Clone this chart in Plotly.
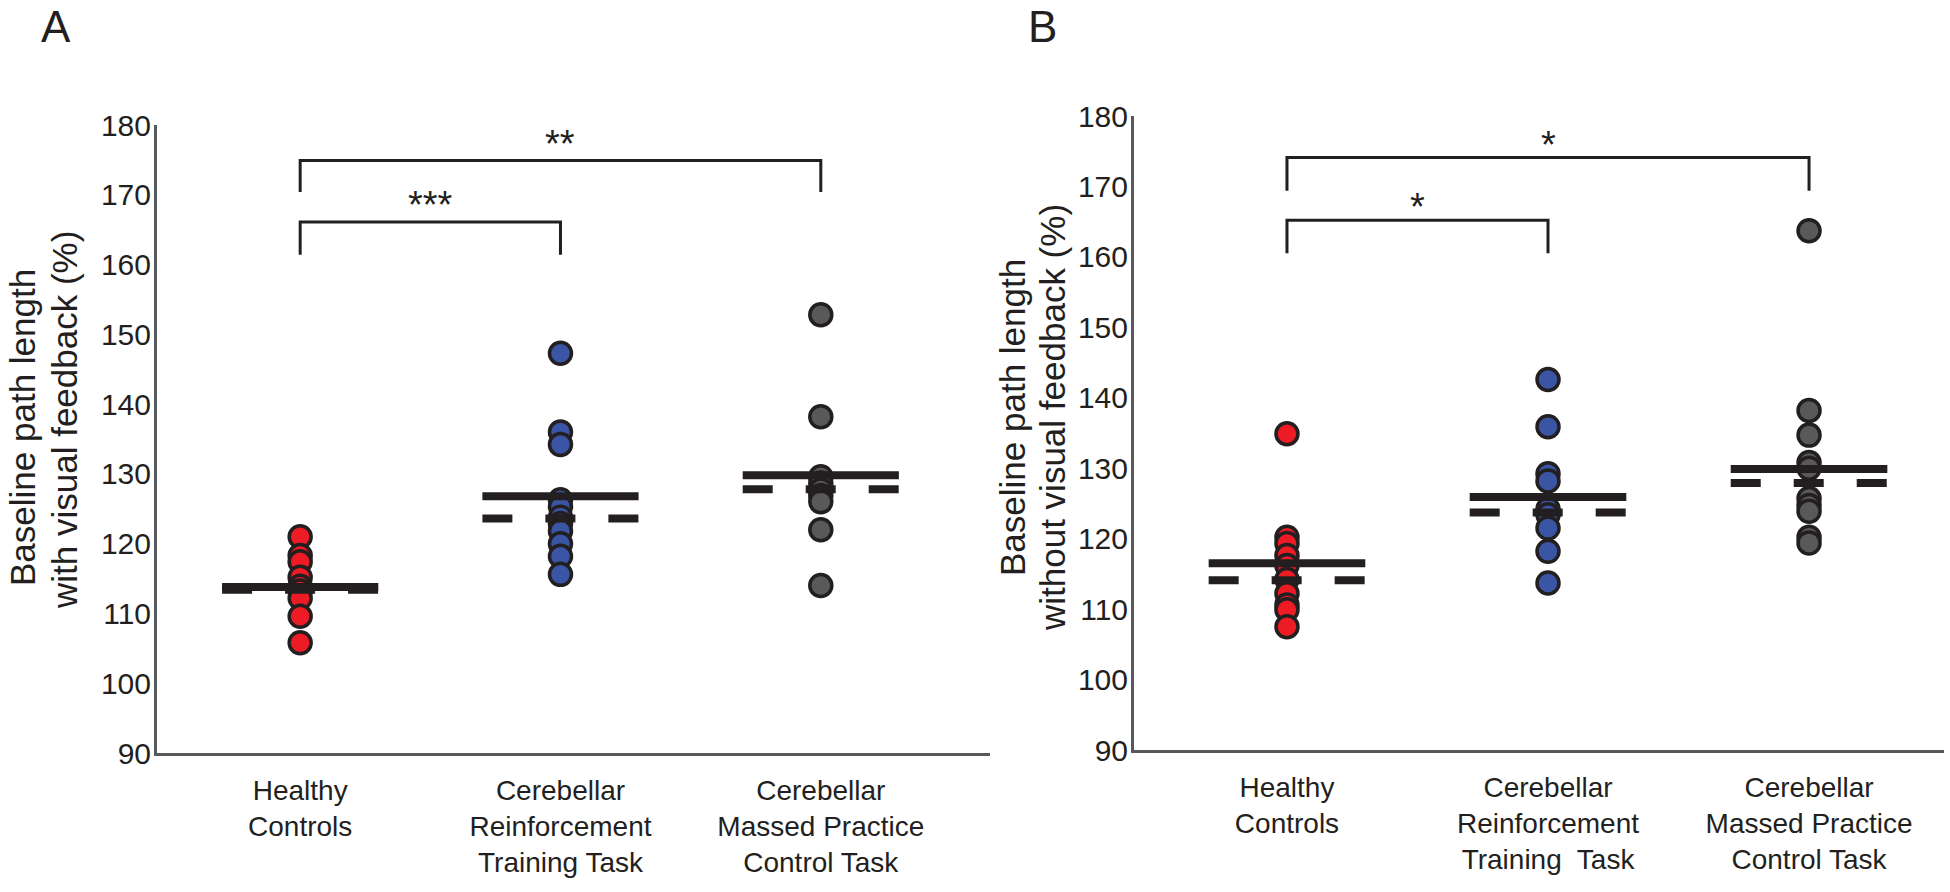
import numpy as np
import plotly.graph_objects as go

# ---------------- data ----------------
categories = ["Healthy<br>Controls",
              "Cerebellar<br>Reinforcement<br>Training Task",
              "Cerebellar<br>Massed Practice<br>Control Task"]
categories_B = ["Healthy<br>Controls",
                "Cerebellar<br>Reinforcement<br>Training  Task",
                "Cerebellar<br>Massed Practice<br>Control Task"]

healthy_A = [121.0, 118.3, 117.4, 115.2, 113.9, 113.2, 112.2, 109.6, 105.8]
reinf_A = [147.3, 136.0, 134.2, 126.3, 125.3, 123.8, 122.9, 121.8, 120.0, 118.2, 115.6]
massed_A = [152.8, 138.2, 129.6, 128.7, 127.7, 126.9, 126.0, 122.0, 114.0]
means_A = [113.8, 126.8, 129.8]
medians_A = [113.4, 123.6, 127.8]

healthy_B = [134.9, 120.2, 119.3, 117.6, 116.2, 114.2, 112.2, 110.6, 109.9, 107.5]
reinf_B = [142.6, 135.9, 129.2, 128.2, 124.2, 123.4, 121.5, 118.2, 113.7]
massed_B = [163.7, 138.2, 134.7, 130.8, 130.0, 125.7, 124.7, 123.9, 120.2, 119.4]
means_B = [116.5, 125.9, 129.9]
medians_B = [114.1, 123.7, 127.9]

yticks = [90, 100, 110, 120, 130, 140, 150, 160, 170, 180]

ytitle_A = ["Baseline path length", "with visual feedback (%)"]
ytitle_B = ["Baseline path length", "without visual feedback (%)"]

# significance comparisons: (group i, group j, label)
sig_A = [(0, 1, "***"), (0, 2, "**")]
sig_B = [(0, 1, "*"), (0, 2, "*")]

# ---------------- styling ----------------
FONT = "Liberation Sans, Arial, Helvetica, sans-serif"
INK = "#231f20"
AXIS = "#58595b"
fills = ["#ed1c24", "#3a55a4", "#59595c"]
half_w = 0.3

# bracket geometry (value-axis units)
brk_A = {1: (166.1, 161.4), 2: (174.9, 170.4)}
brk_B = {1: (165.2, 160.5), 2: (174.1, 169.4)}

W, H = 1950, 892


def px(v):
    return v / W


def py(v):
    return 1 - v / H


fig = go.Figure()


def add_panel(groups, means, medians, sig, brk, xa, ya, star_shift):
    for gi, vals in enumerate(groups):
        fig.add_trace(go.Scatter(
            x=np.full(len(vals), gi), y=vals, mode="markers",
            marker=dict(size=22, color=fills[gi], line=dict(color=INK, width=3.5)),
            xaxis=xa, yaxis=ya, hoverinfo="y"))
    for gi in range(len(groups)):
        fig.add_trace(go.Scatter(
            x=[gi - half_w, gi + half_w], y=[medians[gi]] * 2, mode="lines",
            line=dict(color=INK, width=8, dash="30px,33px"),
            xaxis=xa, yaxis=ya, hoverinfo="skip"))
        fig.add_trace(go.Scatter(
            x=[gi - half_w, gi + half_w], y=[means[gi]] * 2, mode="lines",
            line=dict(color=INK, width=8),
            xaxis=xa, yaxis=ya, hoverinfo="skip"))
    for i, j, lab in sig:
        top, bot = brk[j]
        fig.add_trace(go.Scatter(
            x=[i, i, j, j], y=[bot, top, top, bot], mode="lines",
            line=dict(color=INK, width=3),
            xaxis=xa, yaxis=ya, hoverinfo="skip"))
        fig.add_annotation(x=(i + j) / 2, y=top, xref=xa, yref=ya,
                           text=lab, showarrow=False, xanchor="center", yanchor="bottom",
                           yshift=star_shift, font=dict(family=FONT, size=38, color=INK))


add_panel([healthy_A, reinf_A, massed_A], means_A, medians_A, sig_A, brk_A, "x", "y", -6)
add_panel([healthy_B, reinf_B, massed_B], means_B, medians_B, sig_B, brk_B, "x2", "y2", -10)

xcommon = dict(showline=True, linecolor=AXIS, linewidth=3, showgrid=False, zeroline=False,
               ticks="", tickvals=[0, 1, 2], tickfont=dict(family=FONT, size=28, color=INK),
               ticklabelstandoff=10, automargin=False)
ycommon = dict(showline=True, linecolor=AXIS, linewidth=3, showgrid=False, zeroline=False,
               ticks="", tickvals=yticks, range=[90, 180], automargin=False,
               tickfont=dict(family=FONT, size=30, color=INK), ticklabelstandoff=-3)

fig.update_layout(
    width=W, height=H, margin=dict(l=0, r=0, t=0, b=0, autoexpand=False),
    paper_bgcolor="white", plot_bgcolor="white", showlegend=False,
    xaxis=dict(domain=[px(157), px(990)], range=[-0.55, 2.65], ticktext=categories,
               anchor="y", **xcommon),
    yaxis=dict(domain=[py(753), py(125)], anchor="x", **ycommon),
    xaxis2=dict(domain=[px(1134), px(1944)], range=[-0.586, 2.517], ticktext=categories_B,
                anchor="y2", **xcommon),
    yaxis2=dict(domain=[py(750), py(116)], anchor="x2", **ycommon),
)

ann = dict(xref="paper", yref="paper", showarrow=False, xanchor="center", yanchor="middle")
for txt, xc, yc in zip(ytitle_A, [22, 64], [428, 420]):
    fig.add_annotation(x=px(xc), y=py(yc), text=txt, textangle=-90,
                       font=dict(family=FONT, size=35, color=INK), **ann)
for txt, xc, yc in zip(ytitle_B, [1012, 1052], [418, 418]):
    fig.add_annotation(x=px(xc), y=py(yc), text=txt, textangle=-90,
                       font=dict(family=FONT, size=35, color=INK), **ann)
fig.add_annotation(x=px(56), y=1, text="A", font=dict(family=FONT, size=44, color=INK),
                   xref="paper", yref="paper", showarrow=False, xanchor="center", yanchor="top")
fig.add_annotation(x=px(1042), y=1, text="B", font=dict(family=FONT, size=44, color=INK),
                   xref="paper", yref="paper", showarrow=False, xanchor="center", yanchor="top")

fig.write_html("out.html", config={"displayModeBar": False},
               post_script="document.body.style.margin='0px';")
